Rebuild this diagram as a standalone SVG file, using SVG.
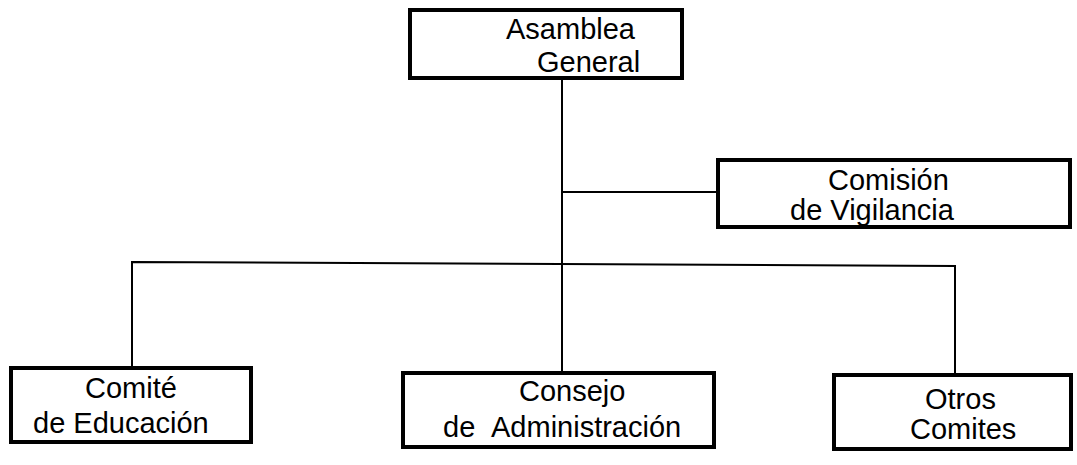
<svg xmlns="http://www.w3.org/2000/svg" width="1077" height="465" viewBox="0 0 1077 465">
<style>
.box{fill:#fff;stroke:#000;stroke-width:4}
.ln{fill:none;stroke:#000;stroke-width:2}
.t{font-family:"Liberation Sans",Arial,sans-serif;font-size:29px;fill:#000}
</style>
<rect width="1077" height="465" fill="#fff"/>
<g id="connectors">
<path class="ln" d="M562 79 V373"/>
<path class="ln" d="M562 192 H717"/>
<path class="ln" d="M132 368 V262 L955 266 V375"/>
</g>
<g id="asamblea">
<rect class="box" x="410" y="10" width="272" height="68"/>
<text class="t" x="506" y="39">Asamblea</text>
<text class="t" x="537" y="72">General</text>
</g>
<g id="comision">
<rect class="box" x="718" y="160" width="352" height="67"/>
<text class="t" x="828" y="190">Comisión</text>
<text class="t" x="790" y="220">de Vigilancia</text>
</g>
<g id="comite">
<rect class="box" x="11" y="368" width="240" height="74"/>
<text class="t" x="85" y="398">Comité</text>
<text class="t" x="33" y="433">de Educación</text>
</g>
<g id="consejo">
<rect class="box" x="403" y="373" width="311" height="74"/>
<text class="t" x="519" y="401">Consejo</text>
<text class="t" x="443" y="437">de</text>
<text class="t" x="491" y="437">Administración</text>
</g>
<g id="otros">
<rect class="box" x="834" y="375" width="237" height="74"/>
<text class="t" x="925" y="409">Otros</text>
<text class="t" x="910" y="439">Comites</text>
</g>
</svg>
